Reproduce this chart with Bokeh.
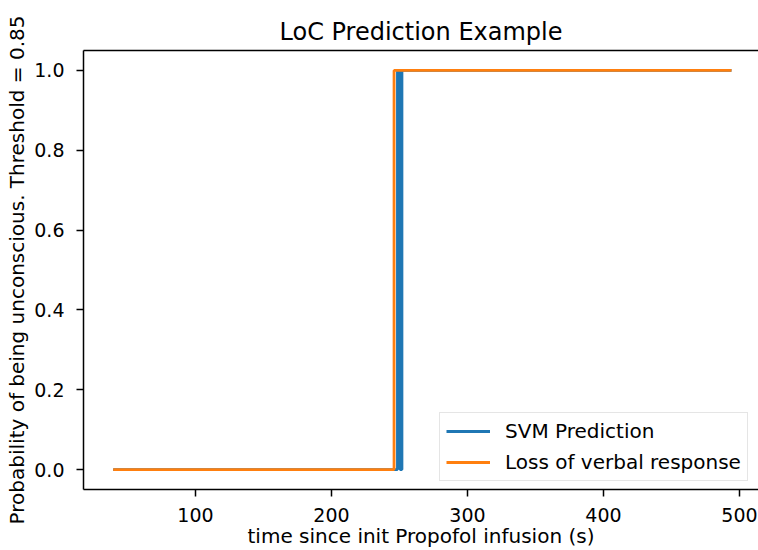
from bokeh.plotting import figure
from bokeh.models import LinearAxis, FixedTicker, Range1d, NumeralTickFormatter
from bokeh.embed import file_html
from bokeh.resources import INLINE

# data
svm_x = [39.5, 248.5, 248.5, 250.4, 250.4, 251.8, 251.8, 494.1]
svm_y = [0, 0, 1, 1, 0, 0, 1, 1]
lvr_x = [39.5, 246.0, 246.0, 494.1]
lvr_y = [0, 0, 1, 1]
x_ticks = [100, 200, 300, 400, 500]
y_ticks = [0.0, 0.2, 0.4, 0.6, 0.8, 1.0]

FONT = "DejaVu Sans"
BLUE = "#1f77b4"
ORANGE = "#ff7f0e"

p = figure(width=758, height=550, output_backend="svg", toolbar_location=None,
           x_range=Range1d(17.65, 513.97), y_range=Range1d(-0.05, 1.05),
           title="LoC Prediction Example",
           min_border_left=83, min_border_right=0, min_border_top=50, min_border_bottom=61)

p.line(svm_x, svm_y, line_color=BLUE, line_width=2.8, legend_label="SVM Prediction")
p.line(lvr_x, lvr_y, line_color=ORANGE, line_width=2.8, legend_label="Loss of verbal response")

p.title.text_font = FONT
p.title.text_font_size = "24px"
p.title.text_font_style = "normal"
p.title.text_color = "#000000"
p.title.align = "center"

p.xgrid.visible = False
p.ygrid.visible = False
p.outline_line_color = None
p.background_fill_color = "white"
p.border_fill_color = "white"

for ax in (p.xaxis[0], p.yaxis[0]):
    ax.axis_line_color = "black"
    ax.axis_line_width = 1.5
    ax.major_tick_line_color = "black"
    ax.major_tick_line_width = 1.5
    ax.major_tick_out = 7
    ax.major_tick_in = 0
    ax.minor_tick_line_color = None
    ax.major_label_text_font = FONT
    ax.major_label_text_font_size = "19px"
    ax.major_label_text_color = "#000000"
    ax.axis_label_text_font = FONT
    ax.axis_label_text_font_size = "20px"
    ax.axis_label_text_font_style = "normal"
    ax.axis_label_text_color = "#000000"

p.xaxis[0].ticker = FixedTicker(ticks=x_ticks)
p.yaxis[0].ticker = FixedTicker(ticks=y_ticks)
p.yaxis[0].formatter = NumeralTickFormatter(format="0.0")
p.xaxis[0].axis_label = "time since init Propofol infusion (s)"
p.yaxis[0].axis_label = "Probability of being unconscious. Threshold = 0.85"
p.xaxis[0].major_label_standoff = 11
p.yaxis[0].major_label_standoff = 12
p.xaxis[0].axis_label_standoff = -1
p.xaxis[0].axis_label_text_line_height = 0.4
p.yaxis[0].axis_label_standoff = 2

top = LinearAxis(ticker=FixedTicker(ticks=[]), axis_line_color="black", axis_line_width=1.5,
                 major_tick_line_color=None, minor_tick_line_color=None,
                 major_label_text_font_size="0px", major_label_standoff=0)
p.add_layout(top, "above")

lg = p.legend[0]
lg.location = (356, 8)
lg.label_text_font = FONT
lg.label_text_font_size = "20px"
lg.label_text_color = "#000000"
lg.glyph_width = 44
lg.glyph_height = 20
lg.label_height = 20
lg.label_standoff = 15
lg.padding = 6
lg.spacing = 7
lg.margin = 0
lg.border_line_color = "#cccccc"
lg.border_line_width = 1
lg.background_fill_alpha = 0.8

open("out.html", "w").write(file_html(p, INLINE))
